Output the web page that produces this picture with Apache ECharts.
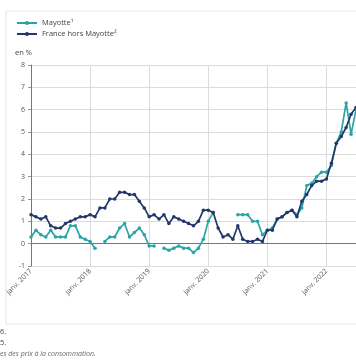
<!DOCTYPE html>
<html><head><meta charset="utf-8">
<script src="https://cdn.jsdelivr.net/npm/echarts@6/dist/echarts.min.js"></script>
<style>html,body{margin:0;padding:0;background:#fff}#c{width:356px;height:364px}</style>
</head><body><div id="c"></div>
<script>
const monthNames = ['janv.','févr.','mars','avr.','mai','juin','juil.','août','sept.','oct.','nov.','déc.'];
const years = [2017,2018,2019,2020,2021,2022];
const lastMonthCount = 7; // janv. to juil. 2022
const seriesNames = ['Mayotte¹','France hors Mayotte²'];
const mayotte = [
  0.3,0.6,0.4,0.3,0.6,0.3,0.3,0.3,0.8,0.8,0.3,0.2,
  0.1,-0.2,null,0.1,0.3,0.3,0.7,0.9,0.3,0.5,0.7,0.4,
  -0.1,-0.1,null,-0.2,-0.3,-0.2,-0.1,-0.2,-0.2,-0.4,-0.2,0.2,
  1.0,1.4,null,null,null,null,1.3,1.3,1.3,1.0,1.0,0.4,
  0.6,0.7,1.1,1.2,1.4,1.5,1.3,1.6,2.6,2.7,3.0,3.2,
  3.2,3.5,4.5,5.0,6.3,4.9,6.0
];
const france = [
  1.3,1.2,1.1,1.2,0.8,0.7,0.7,0.9,1.0,1.1,1.2,1.2,
  1.3,1.2,1.6,1.6,2.0,2.0,2.3,2.3,2.2,2.2,1.9,1.6,
  1.2,1.3,1.1,1.3,0.9,1.2,1.1,1.0,0.9,0.8,1.0,1.5,
  1.5,1.4,0.7,0.3,0.4,0.2,0.8,0.2,0.1,0.1,0.2,0.1,
  0.6,0.6,1.1,1.2,1.4,1.5,1.2,1.9,2.2,2.6,2.8,2.8,
  2.9,3.6,4.5,4.8,5.2,5.8,6.1
];
const yTicks = {min:-1, max:8, interval:1};
const unitLabel = 'en %';
const notes = ['6.','5.','es des prix à la consommation.'];

const categories = [];
years.forEach((y,i)=>{
  const n = i === years.length-1 ? lastMonthCount : 12;
  for (let m=0;m<n;m++) categories.push(monthNames[m]+' '+y);
});

const teal = '#2aa5a6';
const navy = '#22386a';
const font = 'Open Sans';

const chart = echarts.init(document.getElementById('c'), null, {renderer:'canvas'});
chart.setOption({
  animation:false,
  textStyle:{fontFamily:font},
  grid:{left:31, right:-1, top:65, bottom:98, containLabel:false},
  legend:{
    orient:'vertical', left:16, top:19, padding:0, itemGap:3, itemWidth:20, itemHeight:5,
    textStyle:{fontSize:7.5, color:'#444', fontFamily:font},
    data:seriesNames
  },
  xAxis:{
    type:'category', data:categories, boundaryGap:false,
    axisLine:{show:true, lineStyle:{color:'#6e7592', width:1}},
    axisTick:{show:false},
    axisLabel:{interval:11, rotate:45, fontSize:7, color:'#555', margin:4, fontFamily:font},
    splitLine:{show:true, interval:11, lineStyle:{color:'#dcdcdc', width:1}}
  },
  yAxis:{
    type:'value', min:yTicks.min, max:yTicks.max, interval:yTicks.interval,
    axisLine:{show:true, lineStyle:{color:'#6e7592', width:1}},
    axisTick:{show:true, length:3, lineStyle:{color:'#999'}},
    axisLabel:{fontSize:7, color:'#555', margin:6, fontFamily:font},
    splitLine:{show:true, lineStyle:{color:'#dcdcdc', width:1}}
  },
  graphic:[
    {type:'rect', shape:{x:6, y:11, width:400, height:313}, style:{fill:'none', stroke:'#e6e6e6', lineWidth:1}, silent:true, z:-1},
    {type:'text', left:15, top:49, style:{text:unitLabel, fontSize:7.5, fill:'#444', fontFamily:font}},
    {type:'text', left:0, top:328, style:{text:notes[0], fontSize:7.5, fill:'#444', fontFamily:font}},
    {type:'text', left:0, top:339, style:{text:notes[1], fontSize:7.5, fill:'#444', fontFamily:font}},
    {type:'text', left:0, top:350, style:{text:notes[2], fontSize:7, fill:'#666', fontStyle:'italic', fontFamily:font}}
  ],
  series:[
    {name:seriesNames[0], type:'line', data:mayotte, connectNulls:false,
     symbol:'circle', symbolSize:3.5, showAllSymbol:true,
     lineStyle:{color:teal, width:1.7}, itemStyle:{color:teal}, z:2},
    {name:seriesNames[1], type:'line', data:france,
     symbol:'circle', symbolSize:3.5, showAllSymbol:true,
     lineStyle:{color:navy, width:1.7}, itemStyle:{color:navy}, z:3}
  ]
});
</script></body></html>
